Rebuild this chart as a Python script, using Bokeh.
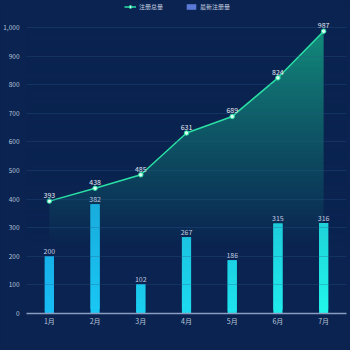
import numpy as np
from bokeh.plotting import figure
from bokeh.models import Range1d, FixedTicker, Legend, LegendItem, NumeralTickFormatter, InlineStyleSheet
from bokeh.core.properties import value
from bokeh.embed import file_html
from bokeh.resources import INLINE

months = ["1月", "2月", "3月", "4月", "5月", "6月", "7月"]
total = [393, 438, 485, 631, 689, 824, 987]
new = [200, 382, 102, 267, 186, 315, 316]
y_ticks = [0, 100, 200, 300, 400, 500, 600, 700, 800, 900, 1000]

BG = "#0a2350"
FONT = "Noto Sans CJK SC"

def hex2rgb(h):
    h = h.lstrip("#")
    return np.array([int(h[i:i + 2], 16) for i in (0, 2, 4)], dtype=float)

def rgb2hex(c):
    c = np.clip(np.round(c), 0, 255).astype(int)
    return "#%02x%02x%02x" % tuple(c)

# headroom above the top tick for the legend row
y_top = 1000 * 313 / 286.0

p = figure(width=350, height=350, output_backend="svg", toolbar_location=None,
           x_range=Range1d(-0.5, len(months) - 0.5), y_range=Range1d(0, y_top),
           min_border_left=26, min_border_right=4, min_border_top=0, min_border_bottom=37)
p.background_fill_color = BG
p.border_fill_color = BG
p.outline_line_color = None
p.stylesheets = [InlineStyleSheet(css=":host { background-color: #0a2350; }")]

xs = np.arange(len(months))

# area under total line
p.varea(x=xs, y1=np.zeros(len(xs)), y2=total, fill_color="#13917e", fill_alpha=1.0)

# vertical fade overlay (background colour, alpha rising towards bottom)
n = 200
hh = (np.arange(n) + 0.5) / n * 1000
alpha = np.clip((1000 - hh) / 760.0, 0, 1) ** 0.85
bgc = hex2rgb(BG)
img = np.zeros((n, 1), dtype=np.uint32)
view = img.view(dtype=np.uint8).reshape((n, 1, 4))
view[:, 0, 0] = int(bgc[0])
view[:, 0, 1] = int(bgc[1])
view[:, 0, 2] = int(bgc[2])
view[:, 0, 3] = (alpha * 255).astype(np.uint8)
p.image_rgba(image=[img], x=-0.5, y=0, dw=len(months), dh=1000)

# bars with vertical gradient (overlapping segments to avoid seams)
base_left = hex2rgb("#18bdf5")
base_right = hex2rgb("#22f5ea")
dark = hex2rgb("#1478b0")
seg = 24
lefts, rights, bots, tops, cols = [], [], [], [], []
for i, v in enumerate(new):
    t = i / (len(new) - 1)
    base = base_left * (1 - t) + base_right * t
    for k in range(seg - 1, -1, -1):
        b = v * k / seg
        tp = min(v * (k + 2) / seg, v)
        mid = v * (k + 0.5) / seg
        f = min(mid / 600.0, 1) * 0.55
        c = base * (1 - f) + dark * f
        lefts.append(i - 0.1)
        rights.append(i + 0.1)
        bots.append(b)
        tops.append(tp)
        cols.append(rgb2hex(c))
p.quad(left=lefts, right=rights, bottom=bots, top=tops, fill_color=cols, line_color=None)

# line
ln = p.line(xs, total, line_color="#2ae0a4", line_width=1.5)
sc = p.scatter(xs, total, size=4.5, marker="circle", fill_color="#d8fff0", line_color="#2ae0a4", line_width=1)

# labels
p.text(x=xs, y=total, text=[str(v) for v in total], text_align="center", text_baseline="bottom",
       y_offset=-3, text_font=value(FONT), text_font_size="7px", text_color="#e4eaf4")
p.text(x=xs, y=new, text=[str(v) for v in new], text_align="center", text_baseline="bottom",
       y_offset=-2, text_font=value(FONT), text_font_size="7px", text_color="#c4cde0")

# dummy renderer for bar legend
dummy = p.quad(left=[0], right=[0], bottom=[0], top=[0], fill_color="#5a78d6", line_color=None)

# grid
p.xgrid.grid_line_color = None
p.ygrid.grid_line_color = "#2a5a8a"
p.ygrid.grid_line_alpha = 0.3
p.ygrid.level = "overlay"
p.ygrid.ticker = FixedTicker(ticks=y_ticks)

# axes
p.yaxis.ticker = FixedTicker(ticks=y_ticks)
p.yaxis.formatter = NumeralTickFormatter(format="0,0")
p.yaxis.axis_line_color = None
p.yaxis.major_tick_line_color = None
p.yaxis.minor_tick_line_color = None
p.yaxis.major_tick_out = 0
p.yaxis.minor_tick_out = 0
p.yaxis.major_label_text_color = "#b8c4d8"
p.yaxis.major_label_text_font = FONT
p.yaxis.major_label_text_font_size = "6.5px"
p.yaxis.major_label_standoff = 7

p.xaxis.ticker = FixedTicker(ticks=list(xs))
p.xaxis.major_label_overrides = {int(i): m for i, m in enumerate(months)}
p.xaxis.axis_line_color = "#8a9cc0"
p.xaxis.axis_line_width = 1.5
p.xaxis.major_tick_line_color = None
p.xaxis.minor_tick_line_color = None
p.xaxis.major_tick_out = 0
p.xaxis.minor_tick_out = 0
p.xaxis.major_label_text_color = "#b8c4d8"
p.xaxis.major_label_text_font = FONT
p.xaxis.major_label_text_font_size = "7px"
p.xaxis.major_label_standoff = 2

legend = Legend(items=[LegendItem(label="注册总量", renderers=[ln, sc]),
                       LegendItem(label="最新注册量", renderers=[dummy])],
                orientation="horizontal", location=(96, 300))
legend.background_fill_alpha = 0
legend.border_line_alpha = 0
legend.label_text_color = "#c8d0e0"
legend.label_text_font = FONT
legend.label_text_font_size = "6px"
legend.label_height = 8
legend.glyph_width = 12
legend.glyph_height = 7
legend.spacing = 22
legend.label_standoff = 3
legend.padding = 2
legend.margin = 0
p.add_layout(legend)

open("out.html", "w").write(file_html(p, INLINE))
